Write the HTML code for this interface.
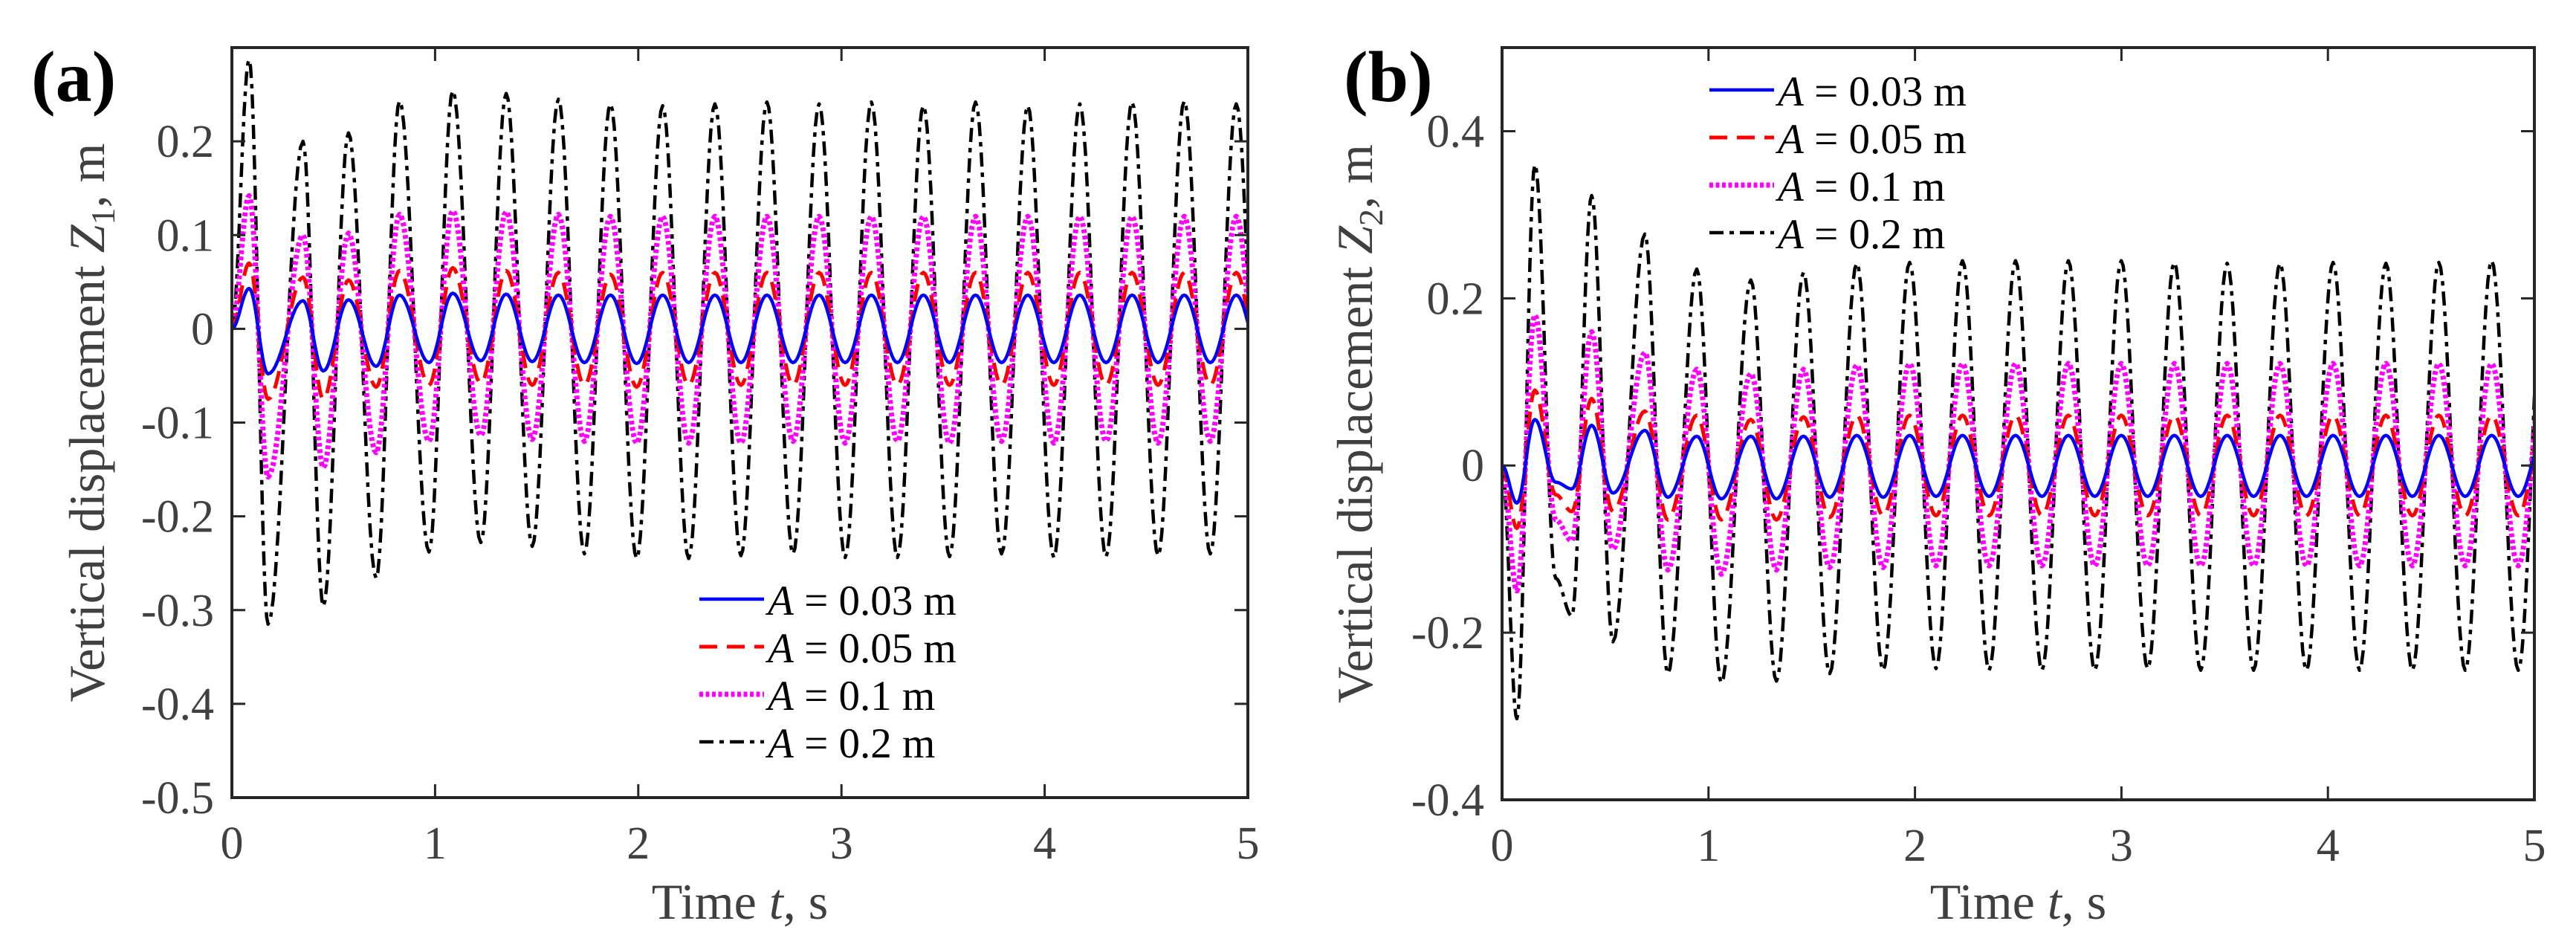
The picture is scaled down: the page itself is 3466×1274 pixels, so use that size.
<!DOCTYPE html>
<html><head><meta charset="utf-8"><style>
html,body{margin:0;padding:0;background:#fff;}
svg{display:block;}
text{font-family:"Liberation Serif","Times New Roman",serif;}
</style></head><body>
<svg id="fig" width="3466" height="1274" viewBox="0 0 3466 1274" xmlns="http://www.w3.org/2000/svg">
<defs>
<clipPath id="clipA"><rect x="312" y="64" width="1367" height="1009"/></clipPath>
<clipPath id="clipB"><rect x="2021" y="64" width="1389" height="1012"/></clipPath>
</defs>
<g id="panelA"></g>
<g id="panelB"></g>
</svg>
<script>
// ---- Panel (a) data: extremum times and values ----
const timesA = [0,0.085,0.178,0.35,0.45,0.574,0.71,0.825,0.97,1.087,1.225,1.350,1.478,1.607,1.735,1.863,1.992,2.120,2.248,2.377,2.505,2.633,2.762,2.890,3.018,3.147,3.275,3.403,3.532,3.660,3.788,3.917,4.045,4.173,4.302,4.430,4.558,4.687,4.815,4.943,5.072];
const blueA  = [0,0.043,-0.048,0.030,-0.045,0.031,-0.040,0.036,-0.036,0.038,-0.034,0.037,-0.035,0.036,-0.036,0.036,-0.037,0.036,-0.036,0.036,-0.036,0.036,-0.036,0.036,-0.036,0.036,-0.036,0.036,-0.036,0.036,-0.036,0.036,-0.036,0.036,-0.036,0.036,-0.036,0.036,-0.036,0.036,-0.036];
const redA   = [0,0.070,-0.075,0.055,-0.075,0.052,-0.062,0.062,-0.060,0.065,-0.058,0.062,-0.060,0.060,-0.060,0.058,-0.062,0.060,-0.060,0.060,-0.060,0.060,-0.060,0.060,-0.060,0.060,-0.060,0.060,-0.060,0.060,-0.060,0.060,-0.060,0.060,-0.060,0.060,-0.060,0.060,-0.060,0.060,-0.060];
const magA   = [0,0.142,-0.158,0.100,-0.148,0.102,-0.132,0.122,-0.120,0.126,-0.114,0.125,-0.118,0.122,-0.120,0.120,-0.122,0.120,-0.122,0.120,-0.122,0.120,-0.120,0.120,-0.122,0.120,-0.120,0.120,-0.122,0.120,-0.120,0.120,-0.122,0.120,-0.120,0.120,-0.122,0.120,-0.120,0.120,-0.120];
const blackA = [0,0.287,-0.315,0.200,-0.296,0.209,-0.266,0.243,-0.238,0.254,-0.228,0.251,-0.232,0.245,-0.240,0.240,-0.245,0.238,-0.245,0.240,-0.242,0.242,-0.240,0.240,-0.244,0.242,-0.244,0.238,-0.243,0.242,-0.240,0.238,-0.244,0.240,-0.243,0.242,-0.242,0.243,-0.240,0.240,-0.240];
// ---- Panel (b) data ----
const timesB = [0,0.072,0.159,0.26,0.338,0.434,0.537,0.692,0.803,0.943,1.062,1.205,1.329,1.460,1.587,1.718,1.846,1.974,2.102,2.230,2.359,2.487,2.615,2.743,2.871,2.999,3.127,3.256,3.384,3.512,3.640,3.768,3.896,4.025,4.153,4.281,4.409,4.537,4.665,4.793,4.922,5.050];
const blueB  = [0,-0.045,0.055,-0.020,-0.028,0.048,-0.033,0.042,-0.038,0.035,-0.040,0.035,-0.040,0.035,-0.038,0.036,-0.038,0.036,-0.037,0.036,-0.037,0.036,-0.037,0.036,-0.037,0.036,-0.037,0.036,-0.037,0.036,-0.037,0.036,-0.037,0.036,-0.037,0.036,-0.037,0.036,-0.037,0.036,-0.037,0.036];
const redB   = [0,-0.075,0.090,-0.035,-0.055,0.080,-0.055,0.065,-0.065,0.060,-0.065,0.055,-0.065,0.058,-0.062,0.060,-0.060,0.060,-0.060,0.060,-0.060,0.060,-0.060,0.060,-0.060,0.060,-0.060,0.060,-0.060,0.060,-0.060,0.060,-0.060,0.060,-0.060,0.060,-0.060,0.060,-0.060,0.060,-0.060,0.060];
const magB   = [0,-0.150,0.180,-0.065,-0.090,0.160,-0.100,0.135,-0.125,0.115,-0.130,0.110,-0.125,0.115,-0.122,0.120,-0.122,0.122,-0.120,0.122,-0.120,0.122,-0.120,0.122,-0.120,0.122,-0.120,0.122,-0.120,0.122,-0.120,0.122,-0.120,0.122,-0.120,0.122,-0.120,0.122,-0.120,0.122,-0.120,0.122];
const blackB = [0,-0.303,0.360,-0.135,-0.180,0.323,-0.211,0.277,-0.249,0.235,-0.260,0.222,-0.258,0.231,-0.249,0.242,-0.245,0.243,-0.243,0.245,-0.245,0.245,-0.245,0.245,-0.245,0.245,-0.243,0.243,-0.245,0.242,-0.245,0.242,-0.245,0.243,-0.245,0.242,-0.245,0.243,-0.245,0.245,-0.245,0.245];
const xTicks = [0,1,2,3,4,5];
const yTicksA = [-0.5,-0.4,-0.3,-0.2,-0.1,0,0.1,0.2];
const yTicksB = [-0.4,-0.2,0,0.2,0.4];
const legendLabels = ["0.03 m","0.05 m","0.1 m","0.2 m"];

const NS = "http://www.w3.org/2000/svg";
function mk(tag, attrs, parent){
  const e = document.createElementNS(NS, tag);
  for (const k in attrs) e.setAttribute(k, attrs[k]);
  parent.appendChild(e);
  return e;
}
const styles = [
  {stroke:"#0000ff", w:4.5, dash:""},
  {stroke:"#ff0000", w:5, dash:"24 13"},
  {stroke:"#ff00ff", w:7, dash:"5 3.5"},
  {stroke:"#000000", w:4.5, dash:"19 8 6 8"}
];

function buildPanel(g, cfg){
  const {x0,x1,y0,y1,ymin,ymax,yTicks,times,series,clip,letter,ylabSub,ylabX,legX,legY,letterX} = cfg;
  const sx = t => x0 + (t-0)/(5-0)*(x1-x0);
  const sy = v => y1 - (v-ymin)/(ymax-ymin)*(y1-y0);
  const order = [3,2,1,0];
  const sg = mk("g",{"clip-path":"url(#"+clip+")"},g);
  
  
  for (const si of order){
    const vals = series[si];
    let d = "";
    for (let i=0;i<times.length-1;i++){
      const t0=times[i], t1=times[i+1], v0=vals[i], v1=vals[i+1];
      const n = 14;
      for (let j=(i===0?0:1); j<=n; j++){
        const s=j/n, t=t0+(t1-t0)*s, v=v0+(v1-v0)*(1-Math.cos(Math.PI*s))/2;
        d += (d===""?"M":"L")+sx(t).toFixed(1)+","+sy(v).toFixed(1);
      }
    }
    const st = styles[si];
    const p = mk("path",{d:d,fill:"none",stroke:st.stroke,"stroke-width":st.w,"stroke-dasharray":st.dash,"stroke-linejoin":"round"},sg);
    
    
  }
  const box = mk("rect",{x:x0,y:y0,width:x1-x0,height:y1-y0,fill:"none",stroke:"#262626","stroke-width":4},g);
  
  
  for (const t of xTicks){
    const x=sx(t);
    const tk = mk("path",{d:`M${x},${y1}V${y1-18}M${x},${y0}V${y0+18}`,stroke:"#262626","stroke-width":3},g);
    
    
    const tx = mk("text",{x:x,y:y1+82,"text-anchor":"middle","font-size":62,fill:"#404040"},g);
    tx.textContent = String(t);
    
    
  }
  for (const v of yTicks){
    const y=sy(v);
    const tk = mk("path",{d:`M${x0},${y}H${x0+18}M${x1},${y}H${x1-18}`,stroke:"#262626","stroke-width":3},g);
    
    
    const tx = mk("text",{x:x0-24,y:y+21,"text-anchor":"end","font-size":62,fill:"#404040"},g);
    tx.textContent = String(v);
    
    
  }
  const xl = mk("text",{x:(x0+x1)/2,y:1236,"text-anchor":"middle","font-size":68,fill:"#404040"},g);
  xl.innerHTML = 'Time <tspan font-style="italic">t</tspan>, s';
  
  
  const yl = mk("text",{x:0,y:0,"text-anchor":"middle","font-size":68,fill:"#404040",transform:`translate(${ylabX},${(y0+y1)/2}) rotate(-90)`},g);
  yl.innerHTML = 'Vertical displacement <tspan font-style="italic">Z</tspan><tspan font-size="46" dy="14">'+ylabSub+'</tspan><tspan dy="-14">, m</tspan>';
  
  
  const pl = mk("text",{x:letterX,y:136,"font-size":98,"font-weight":"bold",fill:"#000"},g);
  pl.textContent = "("+letter+")";
  
  
  const lg = mk("g",{},g);
  
  
  for (let i=0;i<4;i++){
    const y = legY + i*64;
    const st = styles[i];
    const ln = mk("line",{x1:legX,y1:y,x2:legX+87,y2:y,stroke:st.stroke,"stroke-width":st.w,"stroke-dasharray":st.dash},lg);
    
    
    const tx = mk("text",{x:legX+92,y:y+21,"font-size":57,fill:"#000"},lg);
    tx.innerHTML = '<tspan font-style="italic">A</tspan> = '+legendLabels[i];
    
    
  }
}
buildPanel(document.getElementById("panelA"),{x0:312,x1:1679,y0:64,y1:1073,ymin:-0.5,ymax:0.3,yTicks:yTicksA,times:timesA,series:[blueA,redA,magA,blackA],clip:"clipA",letter:"a",ylabSub:"1",ylabX:140,legX:941,legY:806,letterX:42});
buildPanel(document.getElementById("panelB"),{x0:2021,x1:3410,y0:64,y1:1076,ymin:-0.4,ymax:0.5,yTicks:yTicksB,times:timesB,series:[blueB,redB,magB,blackB],clip:"clipB",letter:"b",ylabSub:"2",ylabX:1846,legX:2300,legY:121,letterX:1808});
</script>
</body></html>
